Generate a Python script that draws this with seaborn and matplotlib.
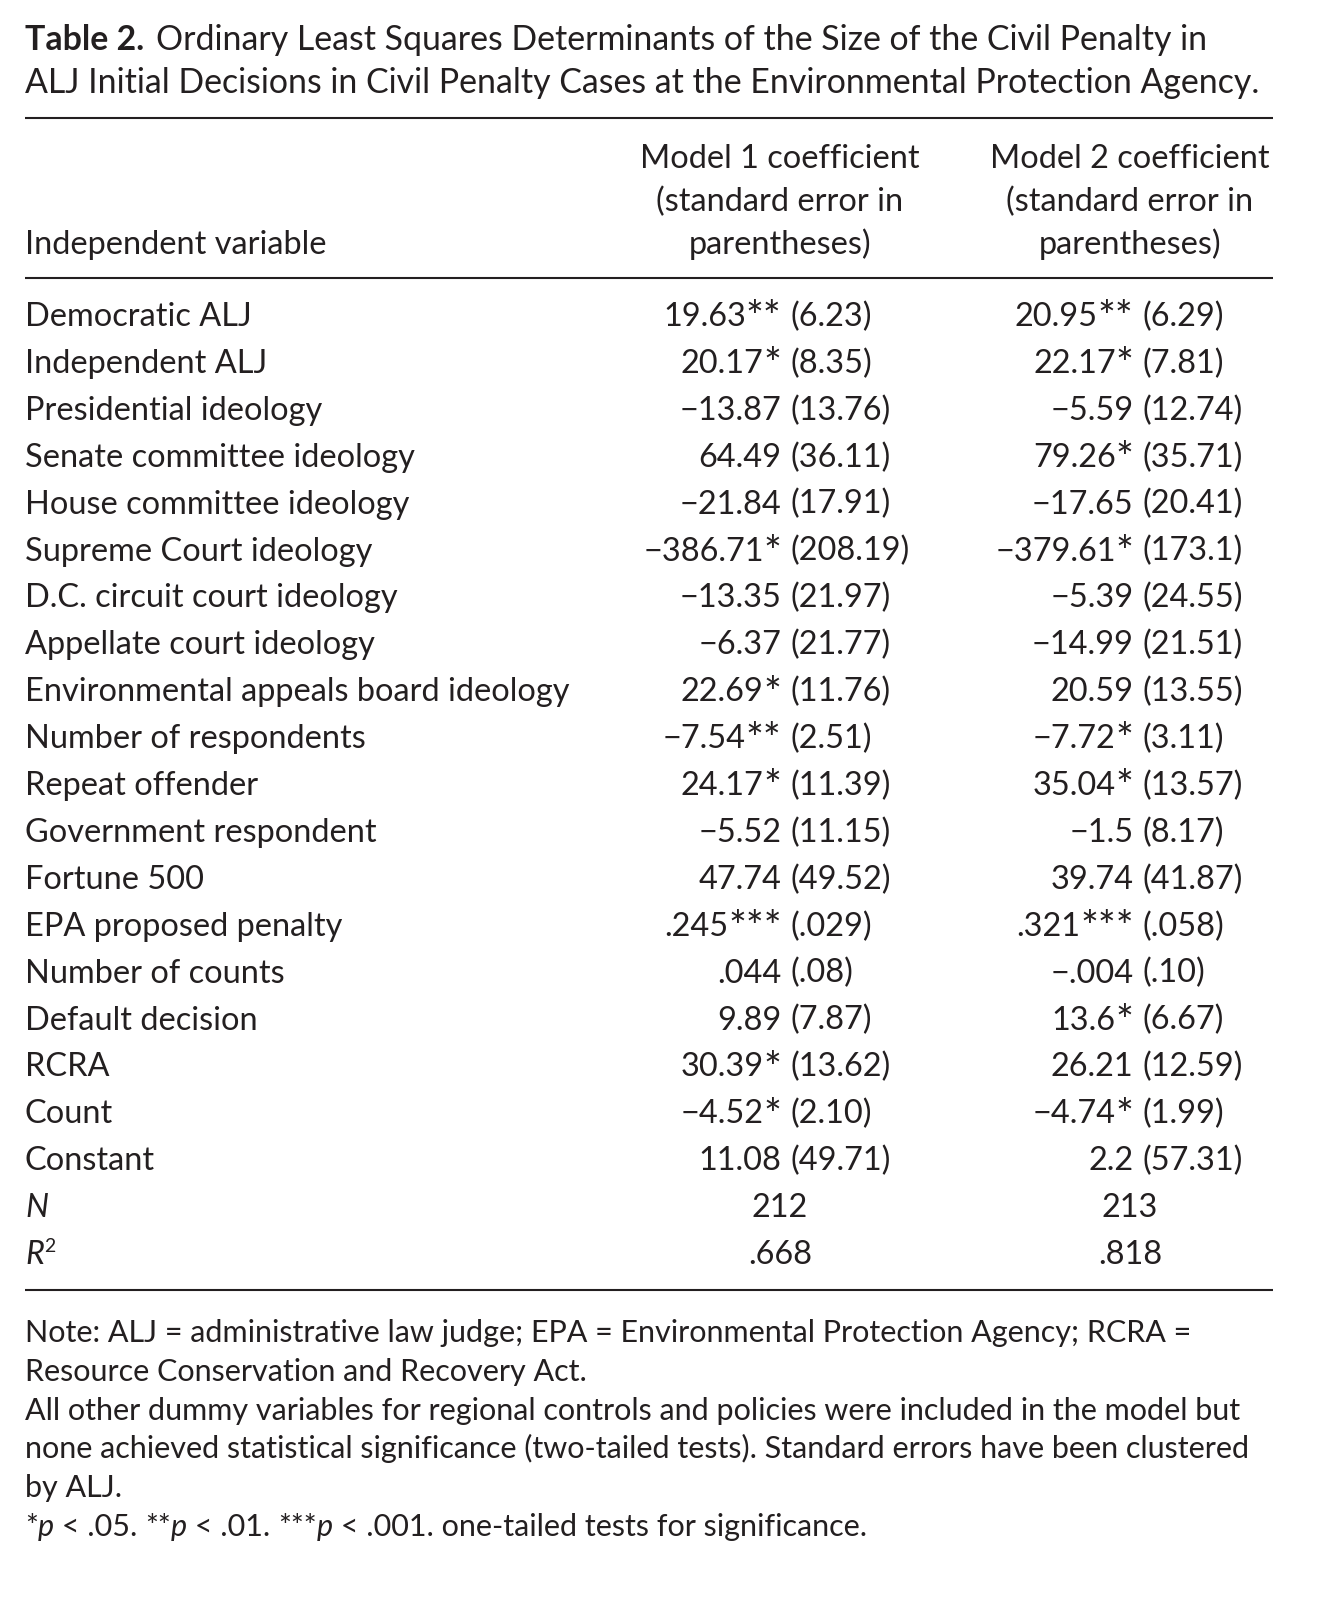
import matplotlib
matplotlib.use("Agg")
import matplotlib.pyplot as plt
import seaborn as sns

sns.set_theme(style="white")
plt.rcParams['font.family'] = ['Lato', 'DejaVu Sans']

W, H = 1326, 1601

title_bold = "Table 2."
title_line1 = "Ordinary Least Squares Determinants of the Size of the Civil Penalty in"
title_line2 = "ALJ Initial Decisions in Civil Penalty Cases at the Environmental Protection Agency."

header_col0 = "Independent variable"
header_col1 = ["Model 1 coefficient", "(standard error in", "parentheses)"]
header_col2 = ["Model 2 coefficient", "(standard error in", "parentheses)"]

variables = ["Democratic ALJ", "Independent ALJ", "Presidential ideology",
             "Senate committee ideology", "House committee ideology",
             "Supreme Court ideology", "D.C. circuit court ideology",
             "Appellate court ideology", "Environmental appeals board ideology",
             "Number of respondents", "Repeat offender", "Government respondent",
             "Fortune 500", "EPA proposed penalty", "Number of counts",
             "Default decision", "RCRA", "Count", "Constant"]

m1_coef = ["19.63**", "20.17*", "\u221213.87", "64.49", "\u221221.84", "\u2212386.71*",
           "\u221213.35", "\u22126.37", "22.69*", "\u22127.54**", "24.17*", "\u22125.52",
           "47.74", ".245***", ".044", "9.89", "30.39*", "\u22124.52*", "11.08"]
m1_se = ["(6.23)", "(8.35)", "(13.76)", "(36.11)", "(17.91)", "(208.19)", "(21.97)",
         "(21.77)", "(11.76)", "(2.51)", "(11.39)", "(11.15)", "(49.52)", "(.029)",
         "(.08)", "(7.87)", "(13.62)", "(2.10)", "(49.71)"]
m2_coef = ["20.95**", "22.17*", "\u22125.59", "79.26*", "\u221217.65", "\u2212379.61*",
           "\u22125.39", "\u221214.99", "20.59", "\u22127.72*", "35.04*", "\u22121.5",
           "39.74", ".321***", "\u2212.004", "13.6*", "26.21", "\u22124.74*", "2.2"]
m2_se = ["(6.29)", "(7.81)", "(12.74)", "(35.71)", "(20.41)", "(173.1)", "(24.55)",
         "(21.51)", "(13.55)", "(3.11)", "(13.57)", "(8.17)", "(41.87)", "(.058)",
         "(.10)", "(6.67)", "(12.59)", "(1.99)", "(57.31)"]

n_values = ["212", "213"]
r2_values = [".668", ".818"]

note_lines = [
    "Note: ALJ = administrative law judge; EPA = Environmental Protection Agency; RCRA =",
    "Resource Conservation and Recovery Act.",
    "All other dummy variables for regional controls and policies were included in the model but",
    "none achieved statistical significance (two-tailed tests). Standard errors have been clustered",
    "by ALJ.",
]

fig = plt.figure(figsize=(W / 100, H / 100), dpi=100)
ax = fig.add_axes([0, 0, 1, 1])
ax.set_xlim(0, W)
ax.set_ylim(H, 0)
ax.axis("off")
fig.canvas.draw()
renderer = fig.canvas.get_renderer()
INK = "#231f20"


def width_of(s, size, **kw):
    t = ax.text(0, 0, s, fontsize=size, **kw)
    w = t.get_window_extent(renderer).width
    t.remove()
    return w


def fit_size(s, target, **kw):
    return 20 * target / width_of(s, 20, **kw)


body = fit_size("Environmental appeals board ideology", 545)
title_fs = fit_size(title_line2, 1238)
note_fs = fit_size(note_lines[2], 1218)
PX = 100 / 72.0  # pixels per point


def runs(x, y, parts, size, ha="left"):
    widths = []
    for s, kw in parts:
        extra = {k: v for k, v in kw.items() if k not in ("fs", "dy")}
        widths.append(width_of(s, kw.get("fs", size), **extra))
    total = sum(widths)
    if ha == "center":
        x = x - total / 2
    elif ha == "right":
        x = x - total
    for (s, kw), w in zip(parts, widths):
        extra = {k: v for k, v in kw.items() if k not in ("fs", "dy")}
        ax.text(x, y + kw.get("dy", 0), s, fontsize=kw.get("fs", size), color=INK,
                va="baseline", ha="left", **extra)
        x += w


def star_style(size, scale=1.3):
    return {"fs": size * scale, "dy": size * PX * (scale - 1.0) * 0.55}


# Title
tb = ax.text(25, 50, title_bold, fontsize=title_fs, fontweight="bold", color=INK, va="baseline")
wb = tb.get_window_extent(renderer).width
ax.text(25 + wb + 12, 50, title_line1, fontsize=title_fs, color=INK, va="baseline")
ax.text(25, 93, title_line2, fontsize=title_fs, color=INK, va="baseline")

# rules
ax.hlines([118, 278, 1290], 25, 1273, color=INK, lw=1.5)

# header
c1, c2 = 780, 1130
hy = [168, 211, 254]
for i in range(3):
    ax.text(c1, hy[i], header_col1[i], fontsize=body, color=INK, ha="center", va="baseline")
    ax.text(c2, hy[i], header_col2[i], fontsize=body, color=INK, ha="center", va="baseline")
ax.text(25, hy[2], header_col0, fontsize=body, color=INK, va="baseline")

# body rows
y0, dy = 326, 46.9
p1, p2 = 790, 1142
sp = width_of(" ", body)


def coef_cell(pos, y, coef, se):
    num = coef.rstrip("*")
    stars = coef[len(num):]
    parts = [(num, {})]
    if stars:
        parts.append((stars, star_style(body)))
    runs(pos - sp, y, parts, body, ha="right")
    ax.text(pos, y, se, fontsize=body, color=INK, ha="left", va="baseline")


for i, v in enumerate(variables):
    y = y0 + i * dy
    ax.text(25, y, v, fontsize=body, color=INK, va="baseline")
    coef_cell(p1, y, m1_coef[i], m1_se[i])
    coef_cell(p2, y, m2_coef[i], m2_se[i])

yN = y0 + len(variables) * dy
ax.text(25, yN, "N", fontsize=body, color=INK, va="baseline", style="italic")
ax.text(c1, yN, n_values[0], fontsize=body, color=INK, ha="center", va="baseline")
ax.text(c2, yN, n_values[1], fontsize=body, color=INK, ha="center", va="baseline")
yR = yN + dy
runs(25, yR, [("R", {"style": "italic"}), ("2", {"fs": body * 0.6, "dy": -body * PX * 0.38})], body)
ax.text(c1, yR, r2_values[0], fontsize=body, color=INK, ha="center", va="baseline")
ax.text(c2, yR, r2_values[1], fontsize=body, color=INK, ha="center", va="baseline")

# notes
ny0, ndy = 1342, 38.8
for i, line in enumerate(note_lines):
    ax.text(25, ny0 + i * ndy, line, fontsize=note_fs, color=INK, va="baseline")
sup = {"fs": note_fs, "dy": 0}
it = {"style": "italic"}
runs(25, ny0 + 5 * ndy, [("*", sup), ("p", it), (" < .05. ", {}), ("**", sup), ("p", it),
                          (" < .01. ", {}), ("***", sup), ("p", it),
                          (" < .001. one-tailed tests for significance.", {})], note_fs)

fig.savefig("out.png", dpi=100)
